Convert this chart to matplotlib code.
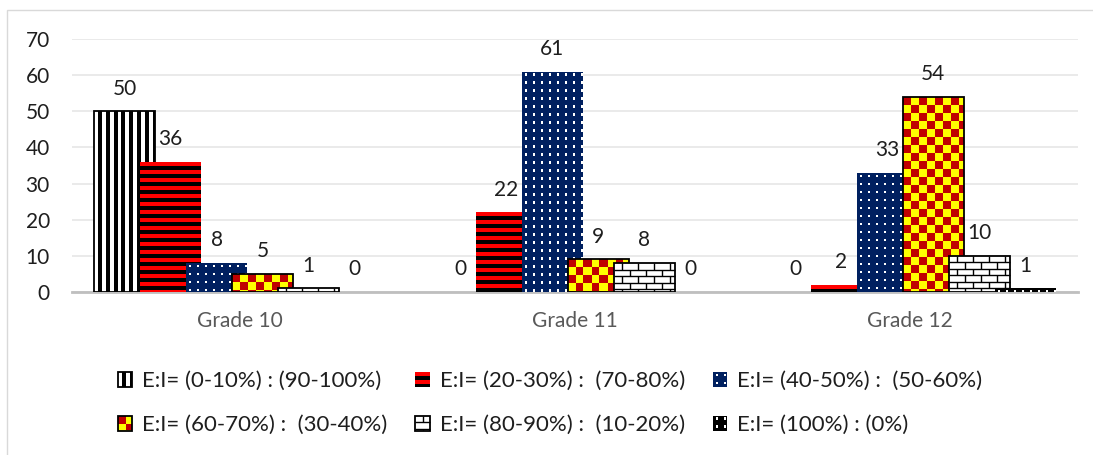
import numpy as np
import matplotlib
matplotlib.use("Agg")
import matplotlib.pyplot as plt
from matplotlib.patches import Rectangle
from matplotlib.collections import PolyCollection, LineCollection
from matplotlib.legend_handler import HandlerBase

# ---- data -------------------------------------------------------------
grades = ["Grade 10", "Grade 11", "Grade 12"]
series_labels = [
    "E:I= (0-10%) : (90-100%)",
    "E:I= (20-30%) :  (70-80%)",
    "E:I= (40-50%) :  (50-60%)",
    "E:I= (60-70%) :  (30-40%)",
    "E:I= (80-90%) :  (10-20%)",
    "E:I= (100%) : (0%)",
]
ratio_0_10 = [50, 0, 0]
ratio_20_30 = [36, 22, 2]
ratio_40_50 = [8, 61, 33]
ratio_60_70 = [5, 9, 54]
ratio_80_90 = [1, 8, 10]
ratio_100 = [0, 0, 1]
y_ticks = [0, 10, 20, 30, 40, 50, 60, 70]

series_values = [ratio_0_10, ratio_20_30, ratio_40_50,
                 ratio_60_70, ratio_80_90, ratio_100]
series_kinds = ["vstripe", "hstripe", "dots", "checker", "brick", "dots_black"]

# ---- fill patterns ------------------------------------------------------
STYLES = {
    "vstripe":    dict(base="white",   ink="black",   border="black"),
    "hstripe":    dict(base="#FF0000", ink="black",   border=None),
    "dots":       dict(base="#002060", ink="white",   border=None),
    "checker":    dict(base="#FFFF00", ink="#C00000", border="black"),
    "brick":      dict(base="white",   ink="black",   border="black"),
    "dots_black": dict(base="black",   ink="white",   border=None),
}


def _clip(rects, wp, hp):
    out = []
    for x, y, w, h in rects:
        xa, xb = max(x, 0.0), min(x + w, wp)
        ya, yb = max(y, 0.0), min(y + h, hp)
        if xb > xa and yb > ya:
            out.append((xa, ya, xb - xa, yb - ya))
    return out


def pattern_geometry(kind, wp, hp):
    """Rectangles and line segments (pixel units, origin bottom-left)."""
    rects, segs = [], []
    if kind == "vstripe":
        P, b = 7.8, 3.9
        for k in range(int(wp / P) + 2):
            rects.append((k * P + b, 0, b, hp))
    elif kind == "hstripe":
        P, b = 8.0, 4.0
        for k in range(int(hp / P) + 2):
            rects.append((0, hp - k * P - P, wp, b))
    elif kind in ("dots", "dots_black"):
        P, s = 8.0, 2.2
        for i in range(int(wp / P) + 2):
            for j in range(int(hp / P) + 2):
                rects.append((i * P + 3, hp - (j * P + 4), s, s))
    elif kind == "checker":
        P = 8.0
        for i in range(int(wp / P) + 2):
            for j in range(int(hp / P) + 2):
                if (i + j) % 2 == 0:
                    rects.append((i * P, hp - (j + 1) * P, P, P))
    elif kind == "brick":
        R, L = 6.5, 16.0
        nrow = int(hp / R) + 1
        for k in range(1, nrow + 1):
            y = hp - k * R
            if 0 < y < hp:
                segs.append(((0, y), (wp, y)))
        for k in range(nrow):
            ytop, ybot = hp - k * R, max(hp - (k + 1) * R, 0)
            x = (k % 2) * L / 2 + L / 2
            while x < wp:
                segs.append(((x, ybot), (x, ytop)))
                x += L
    return _clip(rects, wp, hp), segs


def pattern_artists(kind, x0, y0, w, h, ux, uy, transform, z):
    """Artists filling the box (x0, y0, w, h); ux/uy = box units per pixel."""
    st = STYLES[kind]
    wp, hp = w / ux, h / uy
    rects, segs = pattern_geometry(kind, wp, hp)
    arts = [Rectangle((x0, y0), w, h, facecolor=st["base"], edgecolor="none",
                      transform=transform, zorder=z)]
    if rects:
        polys = [[(x0 + x * ux, y0 + y * uy), (x0 + (x + rw) * ux, y0 + y * uy),
                  (x0 + (x + rw) * ux, y0 + (y + rh) * uy),
                  (x0 + x * ux, y0 + (y + rh) * uy)] for x, y, rw, rh in rects]
        arts.append(PolyCollection(polys, facecolors=st["ink"], edgecolors="none",
                                   transform=transform, zorder=z + 0.2))
    if segs:
        lines = [[(x0 + a[0] * ux, y0 + a[1] * uy), (x0 + b[0] * ux, y0 + b[1] * uy)]
                 for a, b in segs]
        arts.append(LineCollection(lines, colors=st["ink"], linewidths=1.0,
                                   transform=transform, zorder=z + 0.3))
    if st["border"] is not None:
        arts.append(Rectangle((x0, y0), w, h, fill=False, edgecolor=st["border"],
                              linewidth=1.3, transform=transform, zorder=z + 0.4))
    return arts


class PatternHandler(HandlerBase):
    def __init__(self, kind):
        super().__init__()
        self.kind = kind

    def create_artists(self, legend, orig_handle, xdescent, ydescent,
                       width, height, fontsize, trans):
        return pattern_artists(self.kind, -xdescent, -ydescent, width, height,
                               0.72, 0.72, trans, 0)


# ---- figure --------------------------------------------------------------
plt.rcParams["font.family"] = ["Lato", "DejaVu Sans"]
W, H = 1093, 455
fig = plt.figure(figsize=(W / 100, H / 100), dpi=100)
ax = fig.add_axes([72 / W, 1 - 292 / H, (1078 - 72) / W, (292 - 39) / H])
ax.set_xlim(-0.5, 2.5)
ax.set_ylim(0, 70)

# pixel -> data conversion
p0 = ax.transData.transform((0, 0))
p1 = ax.transData.transform((1, 1))
ux = 1.0 / (p1[0] - p0[0])
uy = 1.0 / (p1[1] - p0[1])

x = np.arange(len(grades))
step = 46 * ux
width = 61 * ux
text_dark = "#1e1e1e"

for i, (vals, kind) in enumerate(zip(series_values, series_kinds)):
    xs = x + (i - 2.5) * step
    z = 3 + i
    bars = ax.bar(xs, vals, width, color=STYLES[kind]["base"], linewidth=0,
                  zorder=z)
    for patch, v in zip(bars.patches, vals):
        if v > 0:
            for art in pattern_artists(kind, patch.get_x(), patch.get_y(),
                                       patch.get_width(), patch.get_height(),
                                       ux, uy, ax.transData, z):
                if isinstance(art, Rectangle):
                    ax.add_patch(art)
                else:
                    ax.add_collection(art, autolim=False)
        ax.annotate(str(v), xy=(patch.get_x() + patch.get_width() / 2, v),
                    xytext=(0, 12), textcoords="offset points",
                    ha="center", va="baseline", fontsize=15,
                    color=text_dark, zorder=30)

ax.set_xlim(-0.5, 2.5)
ax.set_ylim(0, 70)
ax.set_yticks(y_ticks)
ax.set_xticks(x)
ax.set_xticklabels(grades)
ax.tick_params(axis="y", length=0, pad=16, labelsize=15, labelcolor=text_dark)
ax.tick_params(axis="x", length=0, pad=14, labelsize=15, labelcolor="#595959")
ax.yaxis.grid(True, color="#e6e6e6", linewidth=1.2)
ax.set_axisbelow(True)
for s in ["top", "left", "right"]:
    ax.spines[s].set_visible(False)
ax.spines["bottom"].set_color("#bfbfbf")
ax.spines["bottom"].set_linewidth(2)

# ---- legend: two rows of three, filled row by row -------------------------
proxies = [Rectangle((0, 0), 1, 1) for _ in series_kinds]
hmap = {p: PatternHandler(k) for p, k in zip(proxies, series_kinds)}
order = [0, 3, 1, 4, 2, 5]
fig.legend([proxies[k] for k in order], [series_labels[k] for k in order],
           handler_map=hmap, ncol=3, frameon=False, fontsize=16,
           handlelength=0.65, handleheight=0.65, handletextpad=0.45,
           columnspacing=1.25, labelspacing=1.07, borderpad=0,
           borderaxespad=0, loc="center left", labelcolor=text_dark,
           bbox_to_anchor=(118 / W, 1 - 403 / H))

# outer chart frame
fig.patches.append(Rectangle((7 / W, -0.05), 1.2, 1 - 10 / H + 0.05,
                             transform=fig.transFigure, fill=False,
                             edgecolor="#d9d9d9", linewidth=1))

fig.savefig("out.png", dpi=100)
